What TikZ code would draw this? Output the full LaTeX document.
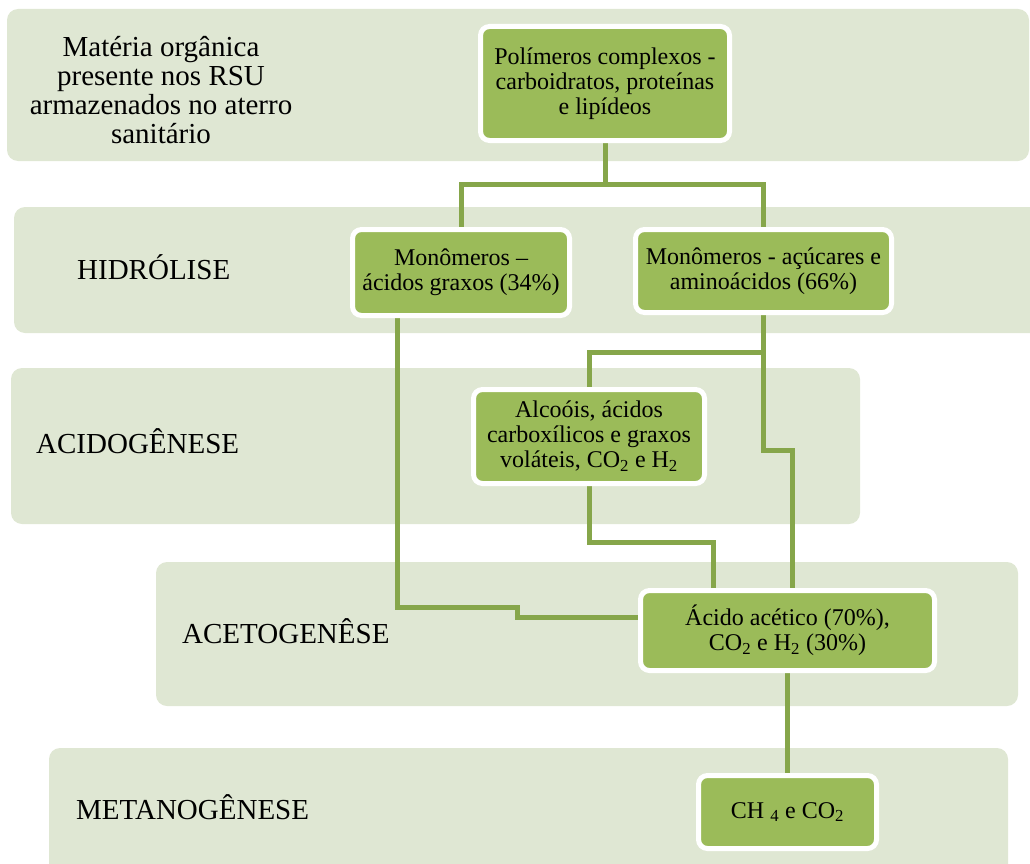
\documentclass[tikz,border=0pt]{standalone}
\usepackage{fontspec}
\setmainfont{Liberation Serif}
\usetikzlibrary{calc}

\definecolor{bandfill}{RGB}{223,231,211}
\definecolor{boxfill}{RGB}{155,187,89}
\definecolor{linkcol}{RGB}{134,166,74}

\pgfdeclarelayer{bands}
\pgfdeclarelayer{links}
\pgfsetlayers{bands,links,main}

\tikzset{
  band/.style={fill=bandfill, draw=none, rounded corners=11pt},
  stage/.style={inner sep=0pt, anchor=base west, font=\fontsize{29}{29}\selectfont},
  stagebox/.style={draw=white, line width=5pt, fill=boxfill, rounded corners=9pt,
    inner sep=0pt, align=center, font=\fontsize{24}{25}\selectfont},
  link/.style={draw=linkcol, line width=5pt, line cap=rect}
}

\begin{document}
\begin{tikzpicture}[x=1pt, y=-1pt]
  \useasboundingbox (0,0) rectangle (1030,864);
  \clip (0,0) rectangle (1030,864);

  % stage bands
  \begin{pgfonlayer}{bands}
    \path[band] (7,9) rectangle (1029,161);
    \path[band] (14,207) rectangle (1045,333);
    \path[band] (11,368) rectangle (860,524);
    \path[band] (156,562) rectangle (1018,706);
    \path[band] (49,748) rectangle (1008,885);
  \end{pgfonlayer}

  % stage names
  \node[inner sep=0pt, align=center, font=\fontsize{29}{29}\selectfont] (intro) at (161,90)
    {Matéria orgânica\\presente nos RSU\\armazenados no aterro\\sanitário};
  \node[stage] (hidro) at (77,279) {HIDRÓLISE};
  \node[stage] (acido) at (36,453) {ACIDOGÊNESE};
  \node[stage] (aceto) at (182,643) {ACETOGENÊSE};
  \node[stage] (metano) at (76,819) {METANOGÊNESE};

  % products
  \node[stagebox, minimum width=249pt, minimum height=114pt] (poly) at (605,83.5)
    {Polímeros complexos -\\carboidratos, proteínas\\e lipídeos};
  \node[stagebox, minimum width=217pt, minimum height=86pt] (mono1) at (461,272.5)
    {Monômeros –\\ácidos graxos (34\%)};
  \node[stagebox, minimum width=256pt, minimum height=83pt] (mono2) at (763.5,271)
    {Monômeros - açúcares e\\aminoácidos (66\%)};
  \node[stagebox, minimum width=231pt, minimum height=94pt] (alc) at (589,436.5)
    {Alcoóis, ácidos\\carboxílicos e graxos\\voláteis, CO\textsubscript{2} e H\textsubscript{2}};
  \node[stagebox, minimum width=294pt, minimum height=80pt] (acet) at (787.5,630.5)
    {Ácido acético (70\%),\\CO\textsubscript{2} e H\textsubscript{2} (30\%)};
  \node[stagebox, minimum width=178pt, minimum height=73pt] (ch4) at (787.5,812)
    {CH \textsubscript{4} e CO\textsubscript{2}};

  % connectors
  \begin{pgfonlayer}{links}
    \coordinate (split) at (605,184);
    \draw[link] (poly.south) -- (split);
    \draw[link] (mono1.north) |- (split) -| (mono2.north);
    \draw[link] (alc.north) |- (mono2.south |- 0,352);
    \draw[link] (mono2.south) -- (mono2.south |- 0,450) -| (acet.north -| 792,0);
    \draw[link] (alc.south) -- (alc.south |- 0,542) -| (acet.north -| 713,0);
    \draw[link] (mono1.south -| 397,0) -- (397,607) -- (517,607) -- (517,617)
      -- (acet.west |- 0,617);
    \draw[link] (acet.south) -- (ch4.north);
  \end{pgfonlayer}
\end{tikzpicture}
\end{document}
